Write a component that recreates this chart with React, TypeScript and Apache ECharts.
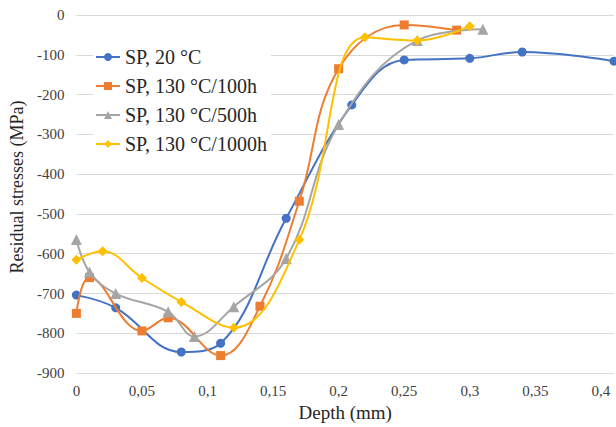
import React, { useEffect, useRef } from "react";
import * as echarts from "echarts";

const seriesNames = ["SP, 20 °C", "SP, 130 °C/100h", "SP, 130 °C/500h", "SP, 130 °C/1000h"];

const depth20 = [0, 0.03, 0.08, 0.11, 0.16, 0.21, 0.25, 0.3, 0.34, 0.41];
const stress20 = [-704, -736, -847, -825, -511, -226, -113, -109, -93, -116];

const depth100h = [0, 0.01, 0.05, 0.07, 0.11, 0.14, 0.17, 0.2, 0.25, 0.29];
const stress100h = [-750, -660, -794, -761, -856, -732, -468, -135, -25, -38];

const depth500h = [0, 0.01, 0.03, 0.07, 0.09, 0.12, 0.16, 0.2, 0.26, 0.31];
const stress500h = [-564, -646, -700, -746, -808, -733, -612, -275, -64, -36];

const depth1000h = [0, 0.02, 0.05, 0.08, 0.12, 0.17, 0.22, 0.26, 0.3];
const stress1000h = [-615, -594, -661, -721, -786, -565, -56, -64, -28];

const colors = ["#4472C4", "#ED7D31", "#A5A5A5", "#FFC000"];
const symbols = ["circle", "rect", "triangle", "diamond"];

const pairs = (xs: number[], ys: number[]) => xs.map((x, i) => [x, ys[i]]);

const FONT = "Liberation Serif";

export default function App() {
  const ref = useRef<HTMLDivElement>(null);
  useEffect(() => {
    if (!ref.current) return;
    const chart = echarts.init(ref.current, undefined, { renderer: "svg" });
    const datasets = [
      pairs(depth20, stress20),
      pairs(depth100h, stress100h),
      pairs(depth500h, stress500h),
      pairs(depth1000h, stress1000h),
    ];
    chart.setOption({
      animation: false,
      backgroundColor: "#fff",
      textStyle: { fontFamily: FONT },
      grid: { left: 75, top: 15, right: 2, bottom: 52 },
      legend: {
        orient: "vertical",
        left: 93,
        top: 45,
        itemWidth: 24,
        itemHeight: 10,
        itemGap: 9,
        backgroundColor: "#fff",
        padding: [2, 4, 2, 2],
        textStyle: { fontFamily: FONT, fontSize: 20, color: "#262626" },
        data: seriesNames,
      },
      xAxis: {
        type: "value",
        min: 0,
        max: 0.41,
        interval: 0.05,
        name: "Depth (mm)",
        nameLocation: "middle",
        nameGap: 27,
        nameTextStyle: { fontFamily: FONT, fontSize: 19, color: "#262626" },
        axisLine: { show: false },
        axisTick: { show: false },
        splitLine: { show: false },
        axisLabel: {
          fontFamily: FONT,
          fontSize: 15,
          color: "#404040",
          margin: 10,
          showMaxLabel: false,
          formatter: (v: number) => {
            const r = Math.round(v * 100);
            if (r % 5 !== 0) return "";
            return String(r / 100).replace(".", ",");
          },
        },
      },
      yAxis: {
        type: "value",
        min: -900,
        max: 0,
        interval: 100,
        name: "Residual stresses (MPa)",
        nameLocation: "middle",
        nameGap: 44,
        nameTextStyle: { fontFamily: FONT, fontSize: 18, color: "#262626", padding: [0, 0, 0, 14] },
        axisLine: { show: false },
        axisTick: { show: false },
        axisLabel: { fontFamily: FONT, fontSize: 15, color: "#404040", margin: 12 },
        splitLine: { lineStyle: { color: "#d9d9d9", width: 1 } },
      },
      series: datasets.map((d, i) => ({
        name: seriesNames[i],
        type: "line",
        data: d,
        smooth: 0.4,
        clip: false,
        symbol: symbols[i],
        symbolSize: symbols[i] === "triangle" ? 11 : symbols[i] === "diamond" ? 10 : 9,
        itemStyle: { color: colors[i] },
        lineStyle: { color: colors[i], width: 2 },
        z: 2 + i,
      })),
    });
    return () => chart.dispose();
  }, []);
  return (
    <div
      ref={ref}
      style={{ position: "fixed", left: 0, top: 0, width: 616, height: 427 }}
    />
  );
}
